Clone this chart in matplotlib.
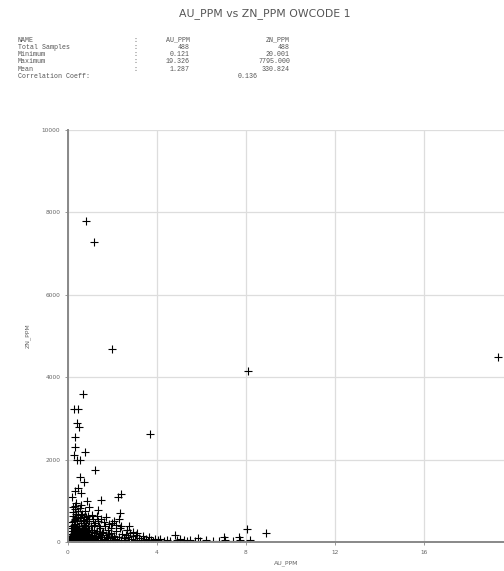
""" plot.py - AU_PPM vs ZN_PPM scatter """

import matplotlib
matplotlib.use("Agg")
import matplotlib.pyplot as plt

# ---- data ----
# outliers and the thin column near the y axis
au_high = [0.81, 1.17, 1.98, 8.10, 19.33, 0.68, 0.27, 0.45, 0.40, 0.50,
           0.30, 0.30, 0.77, 0.25, 0.40, 0.55, 3.70, 1.20, 0.54, 0.70,
           0.45, 0.30, 0.60, 1.50, 2.25, 2.40, 2.35, 0.95, 1.35, 0.20,
           0.35, 0.85, 0.30, 0.60, 0.75, 1.10, 0.30, 2.00, 2.65, 8.06,
           8.90]
zn_high = [7795, 7270, 4690, 4150, 4500, 3600, 3220, 3230, 2880, 2800,
           2540, 2300, 2190, 2100, 2000, 1980, 2620, 1750, 1580, 1450,
           1320, 1250, 1200, 1020, 1100, 1170, 700, 850, 780, 1100,
           950, 1000, 880, 900, 750, 650, 540, 460, 290, 320,
           220]

# dense cluster, AU below 0.5
au_low_a = [0.12, 0.15, 0.18, 0.20, 0.22, 0.25, 0.28, 0.30, 0.32, 0.35,
            0.38, 0.40, 0.42, 0.45, 0.48, 0.50, 0.14, 0.17, 0.21, 0.24,
            0.27, 0.31, 0.36, 0.41, 0.46, 0.13, 0.16, 0.19, 0.23, 0.26,
            0.29, 0.33, 0.37, 0.39, 0.43, 0.47, 0.49, 0.15, 0.20, 0.25,
            0.30, 0.35, 0.40, 0.45, 0.50, 0.18, 0.28, 0.38, 0.22, 0.33,
            0.44, 0.12, 0.16, 0.24, 0.34, 0.44]
zn_low_a = [25, 60, 110, 45, 180, 90, 260, 35, 150, 320,
            70, 210, 400, 120, 55, 290, 350, 480, 620, 730,
            410, 560, 680, 520, 760, 200, 270, 30, 340, 150,
            80, 440, 230, 130, 300, 190, 380, 140, 90, 220,
            170, 60, 100, 250, 160, 400, 500, 600, 850, 790,
            650, 70, 40, 28, 42, 38]

# AU 0.5 - 1.0
au_low_b = [0.52, 0.55, 0.58, 0.60, 0.62, 0.65, 0.68, 0.70, 0.72, 0.75,
            0.78, 0.80, 0.82, 0.85, 0.88, 0.90, 0.92, 0.95, 0.98, 0.54,
            0.57, 0.61, 0.66, 0.71, 0.76, 0.81, 0.86, 0.91, 0.96, 0.53,
            0.59, 0.63, 0.67, 0.73, 0.77, 0.83, 0.87, 0.93, 0.97, 0.56,
            0.64, 0.74, 0.84, 0.94, 0.99, 0.60, 0.70, 0.80, 0.90, 0.55]
zn_low_b = [40, 130, 220, 75, 350, 180, 50, 270, 420, 110,
            60, 200, 330, 90, 150, 45, 250, 500, 120, 580,
            460, 690, 540, 610, 380, 470, 560, 380, 300, 260,
            30, 140, 310, 35, 240, 80, 30, 170, 65, 95,
            240, 160, 260, 100, 25, 650, 520, 600, 640, 820]

# AU 1.0 - 2.0
au_low_c = [1.02, 1.05, 1.08, 1.10, 1.12, 1.15, 1.18, 1.20, 1.25, 1.28,
            1.30, 1.33, 1.36, 1.40, 1.43, 1.46, 1.50, 1.55, 1.58, 1.62,
            1.65, 1.70, 1.74, 1.78, 1.82, 1.86, 1.90, 1.95, 1.98, 1.04,
            1.14, 1.22, 1.32, 1.38, 1.48, 1.60, 1.72, 1.84, 1.06, 1.16,
            1.26, 1.35, 1.44, 1.52, 1.64, 1.76, 1.88, 1.92]
zn_low_c = [60, 180, 300, 110, 40, 240, 420, 85, 150, 35,
            270, 500, 95, 200, 55, 330, 130, 30, 240, 75,
            400, 160, 45, 280, 100, 190, 60, 350, 130, 380,
            560, 450, 620, 380, 560, 480, 600, 430, 30, 70,
            210, 25, 120, 210, 40, 120, 30, 230]

# AU 2.0 - 4.0
au_low_d = [2.02, 2.08, 2.12, 2.18, 2.22, 2.28, 2.32, 2.38, 2.44, 2.50,
            2.55, 2.60, 2.68, 2.72, 2.80, 2.85, 2.92, 3.00, 3.05, 3.12,
            3.20, 3.28, 3.35, 3.42, 3.50, 3.58, 3.65, 3.72, 3.80, 3.90,
            2.15, 2.40, 2.65, 2.90, 3.10, 2.05, 2.30, 2.75]
zn_low_d = [40, 150, 80, 260, 30, 120, 350, 60, 200, 90,
            40, 170, 110, 30, 230, 70, 140, 50, 180, 30,
            100, 60, 140, 40, 80, 30, 110, 50, 25, 70,
            420, 380, 300, 250, 220, 520, 560, 400]

# AU above 4, along the bottom
au_low_e = [4.05, 4.15, 4.30, 4.45, 4.60, 4.80, 4.90, 5.05, 5.20, 5.35,
            5.50, 5.70, 5.85, 5.95, 6.20, 6.50, 6.80, 7.00, 7.05, 7.40,
            7.70, 7.75, 8.20]
zn_low_e = [40, 80, 30, 55, 25, 170, 40, 70, 50, 30,
            40, 25, 100, 30, 45, 30, 35, 120, 50, 30,
            120, 60, 40]

au_ppm = au_high + au_low_a + au_low_b + au_low_c + au_low_d + au_low_e
zn_ppm = zn_high + zn_low_a + zn_low_b + zn_low_c + zn_low_d + zn_low_e

x_ticks = [0, 4, 8, 12, 16]
y_ticks = [0, 2000, 4000, 6000, 8000, 10000]

stat_rows = ["NAME", "Total Samples", "Minimum", "Maximum", "Mean"]
stat_au = ["AU_PPM", "488", "0.121", "19.326", "1.287"]
stat_zn = ["ZN_PPM", "488", "20.001", "7795.000", "330.824"]
corr_coeff = "0.136"

# ---- figure ----
W, H = 504, 571
fig = plt.figure(figsize=(W / 100, H / 100), dpi=100)


def fx(px):
    return px / W


def fy(py):
    return 1 - py / H


fig.text(fx(265), fy(14), "AU_PPM vs ZN_PPM OWCODE 1", ha="center",
         va="center", fontsize=7.8, color="#555555")

mono = dict(family="Liberation Mono", fontsize=4.8, color="#555555",
            va="center")
for i, name in enumerate(stat_rows):
    yy = fy(40 + i * 7.3)
    fig.text(fx(18), yy, name, ha="left", **mono)
    fig.text(fx(133), yy, ":", ha="left", **mono)
    fig.text(fx(190), yy, stat_au[i], ha="right", **mono)
    fig.text(fx(290), yy, stat_zn[i], ha="right", **mono)
yy = fy(40 + 5 * 7.3)
fig.text(fx(18), yy, "Correlation Coeff:", ha="left", **mono)
fig.text(fx(258), yy, corr_coeff, ha="right", **mono)

ax = fig.add_axes([fx(68), fy(542), fx(504) - fx(68), fy(130) - fy(542)])
ax.plot(au_ppm, zn_ppm, linestyle="none", marker="+", color="black",
        markersize=5.5, markeredgewidth=0.8, zorder=3)

ax.set_xlim(0, 19.6)
ax.set_ylim(0, 10000)
ax.set_xticks(x_ticks)
ax.set_yticks(y_ticks)
ax.grid(True, color="#dddddd", linewidth=0.9)
ax.set_axisbelow(True)
for s in ["top", "right"]:
    ax.spines[s].set_visible(False)
for s in ["left", "bottom"]:
    ax.spines[s].set_color("#888888")
    ax.spines[s].set_linewidth(1.4)
    ax.spines[s].set_zorder(4)
ax.tick_params(labelsize=4.2, labelcolor="#666666", color="#888888",
               length=2, width=0.6)
ax.set_xlabel("AU_PPM", fontsize=4.5, color="#666666", labelpad=4)
ax.set_ylabel("ZN_PPM", fontsize=4.5, color="#666666", labelpad=8)

fig.savefig("out.png", dpi=100)
